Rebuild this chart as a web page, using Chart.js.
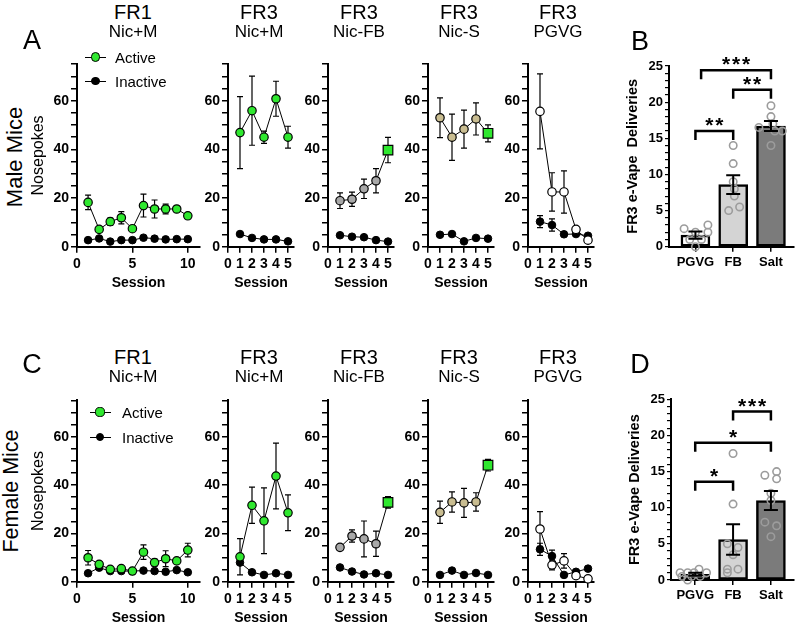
<!DOCTYPE html>
<html><head><meta charset="utf-8">
<script src="https://cdn.jsdelivr.net/npm/chart.js@4.4.1/dist/chart.umd.min.js"></script>
<style>
html,body{margin:0;padding:0;background:#fff;}
#fig{position:relative;width:800px;height:633px;overflow:hidden;background:#fff;font-family:'Liberation Sans',Arial,Helvetica,sans-serif;color:#000;}
#fig canvas{position:absolute;}
.t{position:absolute;white-space:nowrap;line-height:1;transform:translate(-50%,-50%);}
.l{position:absolute;white-space:nowrap;line-height:1;transform:translate(0,-50%);}
</style></head><body><div id="fig"></div>
<script>
// ---------------- DATA ----------------
const sessionsFR1 = [1,2,3,4,5,6,7,8,9,10];
const sessionsFR3 = [1,2,3,4,5];
const ticksFR1 = [0,5,10];
const ticksFR3 = [0,1,2,3,4,5];
const nosepokeLabels = [0,20,40,60];
const panelTitles = [['FR1','Nic+M'],['FR3','Nic+M'],['FR3','Nic-FB'],['FR3','Nic-S'],['FR3','PGVG']];
const legendLabels = ['Active','Inactive'];

// Male mice (panel A)
const maleFR1Active      = [18.2, 7.1, 10.3, 11.9, 7.4, 16.9, 15.5, 15.5, 15.5, 12.7];
const maleFR1ActiveErr   = [3.0, 1.0, 1.5, 2.5, 1.0, 4.7, 3.7, 2.0, 1.0, 1.0];
const maleFR1Inactive    = [2.7, 3.4, 2.1, 2.7, 2.7, 3.7, 3.3, 3.0, 3.1, 3.1];
const maleNicMActive     = [46.9, 55.9, 45.0, 60.8, 45.0];
const maleNicMActiveErr  = [14.8, 14.2, 2.5, 7.2, 4.5];
const maleNicMInactive   = [5.2, 3.6, 3.0, 3.0, 2.2];
const maleFBActive       = [18.9, 19.5, 23.8, 27.1, 39.7];
const maleFBActiveErr    = [3.2, 2.9, 4.0, 5.0, 5.2];
const maleFBInactive     = [4.7, 4.1, 3.9, 2.7, 2.1];
const maleSActive        = [53.0, 45.0, 48.3, 52.5, 46.6];
const maleSActiveErr     = [8.2, 9.5, 7.8, 6.6, 3.5];
const maleSInactive      = [4.9, 5.2, 2.2, 3.6, 3.3];
const malePGVGActive     = [55.6, 22.5, 22.5, 7.1, 2.7];
const malePGVGActiveErr  = [15.4, 7.9, 8.7, 1.2, 0.8];
const malePGVGInactive   = [10.3, 8.9, 5.1, 5.2, 4.5];
const malePGVGInactiveErr= [2.5, 2.5, 1.0, 1.0, 0.8];

// Female mice (panel C)
const femFR1Active       = [9.9, 7.2, 5.1, 5.4, 4.4, 12.2, 7.9, 9.5, 8.6, 13.1];
const femFR1ActiveErr    = [3.0, 1.0, 0.8, 0.8, 0.8, 3.0, 1.5, 3.3, 1.0, 2.8];
const femFR1Inactive     = [3.5, 5.8, 4.4, 4.4, 4.4, 4.6, 4.4, 4.1, 4.8, 3.9];
const femNicMActive      = [10.3, 31.6, 25.2, 43.7, 28.5];
const femNicMActiveErr   = [7.5, 7.5, 13.6, 13.6, 7.4];
const femNicMInactive    = [7.9, 3.9, 2.8, 3.5, 2.8];
const femFBActive        = [14.2, 18.9, 17.7, 15.7, 32.8];
const femFBActiveErr     = [1.0, 2.5, 7.4, 5.2, 2.4];
const femFBInactive      = [5.9, 4.2, 3.0, 3.5, 2.8];
const femSActive         = [28.7, 33.0, 32.6, 33.0, 48.2];
const femSActiveErr      = [4.6, 4.2, 6.0, 3.8, 2.4];
const femSInactive       = [2.8, 4.6, 2.8, 3.6, 2.8];
const femPGVGActive      = [21.8, 6.9, 8.6, 2.5, 1.2];
const femPGVGActiveErr   = [7.2, 2.0, 3.0, 1.0, 0.5];
const femPGVGInactive    = [13.4, 10.6, 2.8, 4.1, 5.4];
const femPGVGInactiveErr = [2.5, 2.5, 0.8, 0.8, 0.8];

// Deliveries (panels B and D)
const groups = ['PGVG','FB','Salt'];
const deliveryLabels = [0,5,10,15,20,25];
const maleMeans = [1.6, 8.6, 16.7];
const maleSem   = [0.5, 1.3, 0.7];
const maleIndiv = [[2.5,3,1,1,2,0,2],[14,11.5,9,8,7,5,5.5],[19.5,18,16.5,16,16,14,17]];
const maleJitter= [[-0.3,0.33,-0.15,0.16,0.33,0,0],[0,0,0,0.03,0.03,-0.12,0.17],[0,0,-0.32,0.3,0.1,0,0.05]];
const maleSig   = [{from:1,to:2,y:16.0,label:'**'},{from:2,to:3,y:21.7,label:'**'},{from:1.15,to:3,y:24.4,label:'***'}];
const femMeans  = [0.8, 5.6, 11.0];
const femSem    = [0.2, 2.1, 1.3];
const femIndiv  = [[1,1,1,1.5,1,0,0.5,0.5,0.5],[17.5,10.5,5,4.5,3.5,1.5,1.5,1],[14.5,15,14,12,11,8,7.5,6]];
const femJitter = [[-0.4,-0.2,-0.03,0.1,0.3,-0.2,-0.35,0.13,-0.09],[0,0,-0.15,0.13,0,-0.15,0.13,-0.15],[-0.16,0.15,0.15,0,0,-0.16,0.15,0]];
const femSig    = [{from:1,to:2,y:13.6,label:'*'},{from:1,to:3,y:19.0,label:'*'},{from:2,to:3,y:23.3,label:'***'}];

// ---------------- STYLE ----------------
const GREEN = '#2fe82f', GREY = '#a8a8a8', TAN = '#c9bd91', WHITE = '#ffffff', BLACK = '#000000';
const FONT = "'Liberation Sans', Arial, Helvetica, sans-serif";
Chart.defaults.font.family = FONT;
Chart.defaults.color = '#000';

const fig = document.getElementById('fig');

const errorBarPlugin = {
  id: 'errbars',
  beforeDatasetsDraw(chart, args, o) { if (!o.front) drawErr(chart, o); },
  afterDatasetsDraw(chart, args, o) { if (o.front) drawErr(chart, o); }
};
function drawErr(chart, o) {
  const ctx = chart.ctx;
  ctx.save();
  ctx.strokeStyle = '#000';
  ctx.lineWidth = o.width;
  chart.data.datasets.forEach((ds, di) => {
    if (!ds.errors) return;
    const meta = chart.getDatasetMeta(di);
    const ys = chart.scales[meta.yAxisID];
    meta.data.forEach((el, i) => {
      const e = ds.errors[i];
      if (!e) return;
      const v = ds.data[i].y;
      const x = el.x, y1 = ys.getPixelForValue(v + e), y2 = ys.getPixelForValue(Math.max(0, v - e));
      ctx.beginPath();
      ctx.moveTo(x, y1); ctx.lineTo(x, y2);
      ctx.moveTo(x - o.cap, y1); ctx.lineTo(x + o.cap, y1);
      ctx.moveTo(x - o.cap, y2); ctx.lineTo(x + o.cap, y2);
      ctx.stroke();
    });
  });
  ctx.restore();
}

const bracketPlugin = {
  id: 'brackets',
  afterDraw(chart, args, o) {
    if (!o.items) return;
    const ctx = chart.ctx, xs = chart.scales.x, ys = chart.scales.y;
    ctx.save();
    ctx.strokeStyle = '#000'; ctx.fillStyle = '#000';
    ctx.lineWidth = 2.5; ctx.lineJoin = 'miter';
    ctx.font = 'bold 21px ' + FONT;
    ctx.textAlign = 'center'; ctx.textBaseline = 'alphabetic';
    o.items.forEach(b => {
      const x1 = xs.getPixelForValue(b.from), x2 = xs.getPixelForValue(b.to), y = ys.getPixelForValue(b.y);
      ctx.beginPath();
      ctx.moveTo(x1, y + 9); ctx.lineTo(x1, y); ctx.lineTo(x2, y); ctx.lineTo(x2, y + 9);
      ctx.stroke();
      const n = b.label.length, mid = (x1 + x2) / 2;
      for (let k = 0; k < n; k++) {
        ctx.fillText('*', mid + (k - (n - 1) / 2) * 10, y + 1);
      }
    });
    ctx.restore();
  }
};

function makeLine(o) {
  const W = o.yW + o.plotW + 10, H = 252;
  const cv = document.createElement('canvas');
  cv.width = W; cv.height = H;
  cv.style.left = (o.axisX - o.yW) + 'px'; cv.style.top = o.canvasTop + 'px';
  cv.style.width = W + 'px'; cv.style.height = H + 'px';
  fig.appendChild(cv);
  const bottomLocal = o.chartBottom - o.canvasTop;
  new Chart(cv.getContext('2d'), {
    type: 'line',
    data: { datasets: [
      { label: legendLabels[0], data: o.sessions.map((s, i) => ({x: s, y: o.active[i]})), errors: o.activeErr,
        borderColor: '#000', borderWidth: 1, tension: 0, clip: false,
        pointStyle: o.pStyle, pointRadius: o.pRadius, pointBackgroundColor: o.pFill,
        pointBorderColor: '#000', pointBorderWidth: 1.2 },
      { label: legendLabels[1], data: o.sessions.map((s, i) => ({x: s, y: o.inactive[i]})), errors: o.inactiveErr,
        borderColor: '#000', borderWidth: 1, tension: 0, clip: false,
        pointStyle: 'circle', pointRadius: 3.8, pointBackgroundColor: '#000', pointBorderColor: '#000', pointBorderWidth: 1 }
    ]},
    options: {
      responsive: false, animation: false, devicePixelRatio: 1,
      layout: { padding: { top: o.chartTop - o.canvasTop, right: 10, bottom: 0, left: 0 } },
      plugins: { legend: { display: false }, tooltip: { enabled: false }, errbars: { front: false, cap: 3, width: 1.2 } },
      scales: {
        x: { type: 'linear', min: 0, max: o.xMax,
          afterBuildTicks: s => { s.ticks = o.xTicks.map(v => ({value: v})); },
          afterFit: s => { s.height = H - bottomLocal; },
          ticks: { autoSkip: false, maxRotation: 0, padding: 3, font: { size: 14, weight: 'bold' }, color: '#000', callback: v => String(v) },
          grid: { drawOnChartArea: false, drawTicks: true, tickLength: 6, tickWidth: 1.5, lineWidth: 1.5, tickColor: '#000', color: '#000' },
          border: { display: true, color: '#000', width: 2 },
          title: { display: true, text: 'Session', color: '#000', padding: 0, font: { size: 14, weight: 'bold', lineHeight: 1.2 } } },
        y: { type: 'linear', min: 0, max: 75,
          afterFit: s => { s.width = o.yW; },
          ticks: { stepSize: 5, autoSkip: false, padding: 2, font: { size: 14, weight: 'bold' }, color: '#000',
            callback: v => nosepokeLabels.includes(v) ? String(v) : '' },
          grid: { drawOnChartArea: false, drawTicks: true, tickLength: 6, tickWidth: 1.5, lineWidth: 1.5, tickColor: '#000', color: '#000' },
          border: { display: true, color: '#000', width: 2 },
          title: o.yTitle ? { display: true, text: o.yTitle, color: '#000', padding: 0, font: { size: 16, lineHeight: 1.2 } } : { display: false } }
      }
    },
    plugins: [errorBarPlugin]
  });
}

function makeBar(o) {
  const W = 800 - o.canvasLeft, H = 240;
  const cv = document.createElement('canvas');
  cv.width = W; cv.height = H;
  cv.style.left = o.canvasLeft + 'px'; cv.style.top = o.canvasTop + 'px';
  cv.style.width = W + 'px'; cv.style.height = H + 'px';
  fig.appendChild(cv);
  const yW = o.axisX - o.canvasLeft;
  const pts = [];
  o.indiv.forEach((arr, g) => arr.forEach((v, k) => pts.push({x: g + 1 + o.jitter[g][k], y: v})));
  new Chart(cv.getContext('2d'), {
    type: 'bar',
    data: { datasets: [
      { type: 'bar', data: groups.map((g, i) => ({x: i + 1, y: o.means[i]})), errors: o.sem,
        backgroundColor: ['#ffffff', '#d4d4d4', '#7b7b7b'], borderColor: '#000', borderWidth: 2.5,
        borderSkipped: false, barThickness: 29, order: 2 },
      { type: 'scatter', data: pts, pointRadius: 3.7, pointBorderColor: '#9c9c9c', pointBorderWidth: 1.6,
        pointBackgroundColor: 'rgba(255,255,255,0)', clip: false, order: 1 }
    ]},
    options: {
      responsive: false, animation: false, devicePixelRatio: 1,
      layout: { padding: { top: o.chartTop - o.canvasTop, right: 6, bottom: 0, left: 0 } },
      plugins: { legend: { display: false }, tooltip: { enabled: false },
        errbars: { front: true, cap: 7, width: 2 }, brackets: { items: o.sig } },
      scales: {
        x: { type: 'linear', min: o.xMin, max: 3.61, offset: false,
          afterBuildTicks: s => { s.ticks = groups.map((g, i) => ({value: i + 1})); },
          afterFit: s => { s.height = H - (o.chartBottom - o.canvasTop); },
          ticks: { autoSkip: false, maxRotation: 0, padding: 3, font: { size: 13, weight: 'bold' }, color: '#000',
            callback: v => groups[v - 1] },
          grid: { offset: false, drawOnChartArea: false, drawTicks: true, tickLength: 5, tickWidth: 1.5, lineWidth: 1.5, tickColor: '#000', color: '#000' },
          border: { display: true, color: '#000', width: 2 } },
        y: { type: 'linear', min: 0, max: 25,
          afterFit: s => { s.width = yW; },
          ticks: { stepSize: 1, autoSkip: false, padding: 2, font: { size: 13, weight: 'bold' }, color: '#000',
            callback: v => deliveryLabels.includes(v) ? String(v) : '' },
          grid: { drawOnChartArea: false, drawTicks: true, tickLength: 4, tickWidth: 1.2, lineWidth: 1.2, tickColor: '#000', color: '#000' },
          border: { display: true, color: '#000', width: 2 },
          title: { display: true, text: o.yTitle, color: '#000', padding: 0, font: { size: 14.5, weight: 'bold', lineHeight: 1.2 } } }
      }
    },
    plugins: [errorBarPlugin, bracketPlugin]
  });
}

// ---------------- LAYOUT ----------------
const rows = [
  { canvasTop: 40, chartTop: 64.2, chartBottom: 246.7, titleY1: 12, titleY2: 31, sets: [
    [maleFR1Active, maleFR1ActiveErr, maleFR1Inactive, null],
    [maleNicMActive, maleNicMActiveErr, maleNicMInactive, null],
    [maleFBActive, maleFBActiveErr, maleFBInactive, null],
    [maleSActive, maleSActiveErr, maleSInactive, null],
    [malePGVGActive, malePGVGActiveErr, malePGVGInactive, malePGVGInactiveErr]] },
  { canvasTop: 375, chartTop: 400.4, chartBottom: 581.7, titleY1: 357, titleY2: 376, sets: [
    [femFR1Active, femFR1ActiveErr, femFR1Inactive, null],
    [femNicMActive, femNicMActiveErr, femNicMInactive, null],
    [femFBActive, femFBActiveErr, femFBInactive, null],
    [femSActive, femSActiveErr, femSInactive, null],
    [femPGVGActive, femPGVGActiveErr, femPGVGInactive, femPGVGInactiveErr]] }
];
const rect = 'rect', circ = 'circle';
const cols = [
  { axisX: 77, yW: 48, plotW: 123, xMax: 11.1, xTicks: ticksFR1, sessions: sessionsFR1, yTitle: 'Nosepokes',
    pStyle: circ, pRadius: 4.2, pFill: GREEN, titleX: 133 },
  { axisX: 228, yW: 40, plotW: 66, xMax: 5.5, xTicks: ticksFR3, sessions: sessionsFR3,
    pStyle: circ, pRadius: 4.2, pFill: GREEN, titleX: 259 },
  { axisX: 328, yW: 40, plotW: 66, xMax: 5.5, xTicks: ticksFR3, sessions: sessionsFR3,
    pStyle: [circ,circ,circ,circ,rect], pRadius: [4.2,4.2,4.2,4.2,6.8], pFill: [GREY,GREY,GREY,GREY,GREEN], titleX: 359 },
  { axisX: 428, yW: 40, plotW: 66, xMax: 5.5, xTicks: ticksFR3, sessions: sessionsFR3,
    pStyle: [circ,circ,circ,circ,rect], pRadius: [4.2,4.2,4.2,4.2,6.8], pFill: [TAN,TAN,TAN,TAN,GREEN], titleX: 459 },
  { axisX: 528, yW: 40, plotW: 66, xMax: 5.5, xTicks: ticksFR3, sessions: sessionsFR3,
    pStyle: circ, pRadius: 4.2, pFill: WHITE, titleX: 558 }
];

rows.forEach(r => {
  cols.forEach((c, ci) => {
    const s = r.sets[ci];
    makeLine(Object.assign({}, c, { canvasTop: r.canvasTop, chartTop: r.chartTop, chartBottom: r.chartBottom,
      active: s[0], activeErr: s[1], inactive: s[2], inactiveErr: s[3] }));
    addText(panelTitles[ci][0], c.titleX, r.titleY1, '20px');
    addText(panelTitles[ci][1], c.titleX, r.titleY2, '17px');
  });
});

makeBar({ canvasLeft: 624, axisX: 669, canvasTop: 40, chartTop: 66, chartBottom: 246.7, xMin: 0.30,
  means: maleMeans, sem: maleSem, indiv: maleIndiv, jitter: maleJitter, sig: maleSig, yTitle: 'FR3 e-Vape  Deliveries' });
makeBar({ canvasLeft: 626, axisX: 671, canvasTop: 375, chartTop: 399.3, chartBottom: 580, xMin: 0.36,
  means: femMeans, sem: femSem, indiv: femIndiv, jitter: femJitter, sig: femSig, yTitle: 'FR3 e-Vape Deliveries' });

// ---------------- TEXT ----------------
function addText(str, cx, cy, size, extra) {
  const d = document.createElement('div');
  d.className = 't';
  d.textContent = str;
  d.style.left = cx + 'px'; d.style.top = cy + 'px'; d.style.fontSize = size;
  if (extra) Object.assign(d.style, extra);
  fig.appendChild(d);
  return d;
}
addText('A', 32, 40, '27px');
addText('B', 640, 41, '27px');
addText('C', 32, 364, '27px');
addText('D', 640, 364, '27px');
addText('Male Mice', 15, 157, '22px', { transform: 'translate(-50%,-50%) rotate(-90deg)' });
addText('Female Mice', 12, 491, '21.5px', { transform: 'translate(-50%,-50%) rotate(-90deg)' });

function legendItem(cx, cy, fill, r, textX, text) {
  const ln = document.createElement('div');
  Object.assign(ln.style, { position: 'absolute', left: (cx - 10.5) + 'px', top: (cy - 0.5) + 'px', width: '21px', height: '0', borderTop: '1px solid #000' });
  fig.appendChild(ln);
  const c = document.createElement('div');
  Object.assign(c.style, { position: 'absolute', left: (cx - r) + 'px', top: (cy - r) + 'px', width: (2 * r) + 'px', height: (2 * r) + 'px',
    boxSizing: 'border-box', border: '1.2px solid #000', borderRadius: '50%', background: fill });
  fig.appendChild(c);
  const t = document.createElement('div');
  t.className = 'l'; t.textContent = text;
  t.style.left = textX + 'px'; t.style.top = cy + 'px'; t.style.fontSize = '15px';
  fig.appendChild(t);
}
legendItem(95.5, 57, GREEN, 4.6, 115, legendLabels[0]);
legendItem(95.5, 81, BLACK, 4.2, 115, legendLabels[1]);
legendItem(100, 412, GREEN, 4.6, 122, legendLabels[0]);
legendItem(100, 437, BLACK, 4.2, 122, legendLabels[1]);
</script></body></html>
